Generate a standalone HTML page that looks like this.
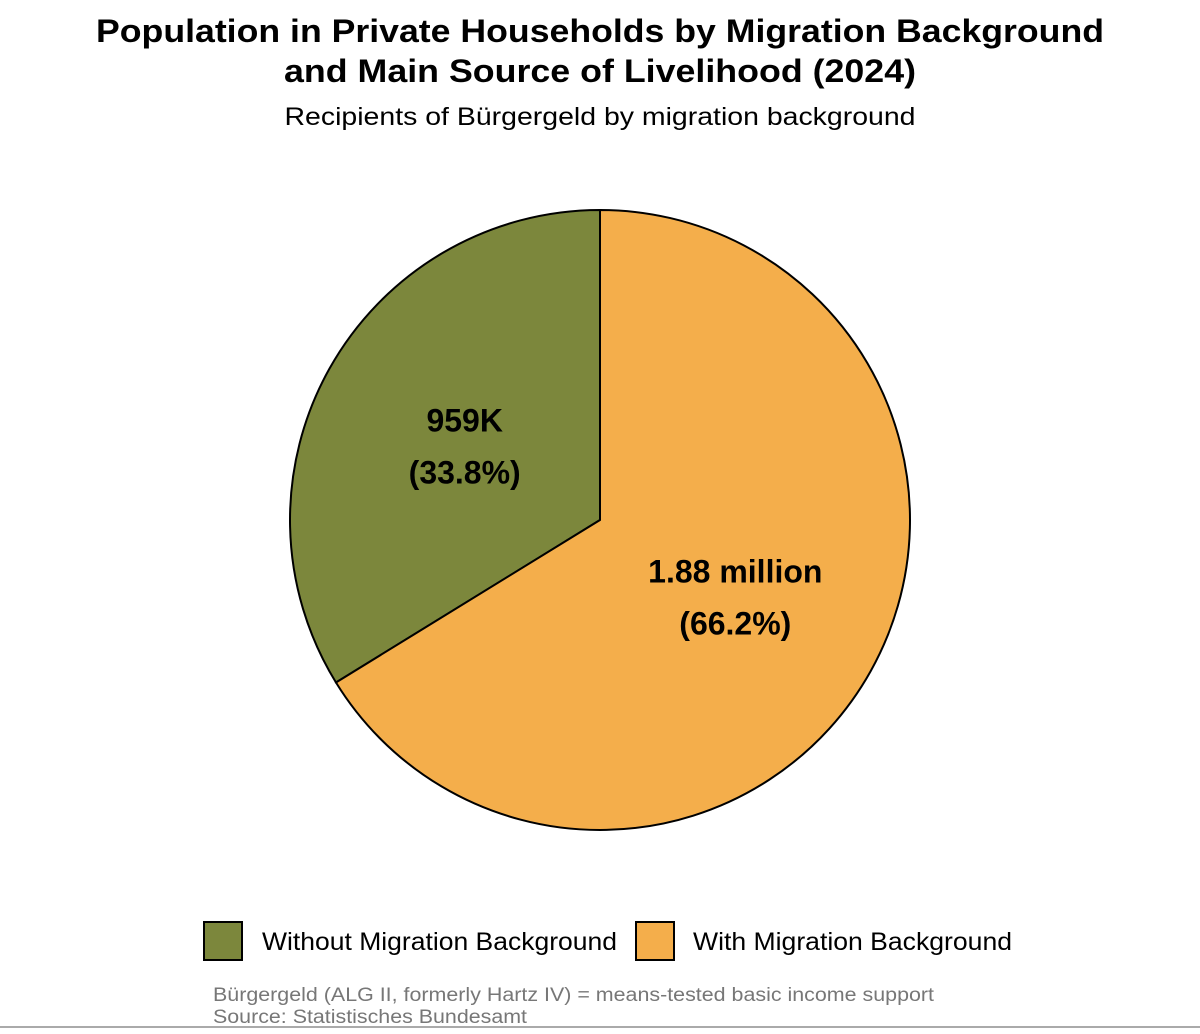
<!DOCTYPE html>
<html><head><meta charset="utf-8"><style>
body{margin:0;background:#fff;width:1200px;height:1029px;overflow:hidden;font-family:"Liberation Sans",sans-serif;}
</style></head><body>
<svg width="1200" height="1029" xmlns="http://www.w3.org/2000/svg">
<text x="600" y="42" text-anchor="middle" font-size="32" font-weight="bold" textLength="1008" lengthAdjust="spacingAndGlyphs">Population in Private Households by Migration Background</text>
<text x="600" y="82" text-anchor="middle" font-size="32" font-weight="bold" textLength="632" lengthAdjust="spacingAndGlyphs">and Main Source of Livelihood (2024)</text>
<text x="600" y="125" text-anchor="middle" font-size="25" textLength="631" lengthAdjust="spacingAndGlyphs">Recipients of Bürgergeld by migration background</text>
<g id="pie"></g>
<rect x="204" y="922" width="38" height="38" fill="#7c873c" stroke="#000" stroke-width="2"/>
<text x="262" y="950" font-size="25" textLength="355" lengthAdjust="spacingAndGlyphs">Without Migration Background</text>
<rect x="636" y="922" width="38" height="38" fill="#f4ae4b" stroke="#000" stroke-width="2"/>
<text x="693" y="950" font-size="25" textLength="319" lengthAdjust="spacingAndGlyphs">With Migration Background</text>
<text x="213" y="1001" font-size="19" fill="#777" textLength="721" lengthAdjust="spacingAndGlyphs">Bürgergeld (ALG II, formerly Hartz IV) = means-tested basic income support</text>
<text x="213" y="1023" font-size="19" fill="#777" textLength="314" lengthAdjust="spacingAndGlyphs">Source: Statistisches Bundesamt</text>
<line x1="0" y1="1027" x2="1200" y2="1027" stroke="#aaa" stroke-width="2"/>
</svg>
<script>
const categories=["Without Migration Background","With Migration Background"];
const values=[959,1880];
const valueLabels=["959K","1.88 million"];
const pctLabels=["(33.8%)","(66.2%)"];
const colors=["#7c873c","#f4ae4b"];
const cx=600,cy=520,r=310,NS="http://www.w3.org/2000/svg";
const g=document.getElementById('pie');
const total=values.reduce((a,b)=>a+b,0);
function pt(a,rr){return [cx-rr*Math.sin(a),cy-rr*Math.cos(a)];}
let start=0;
values.forEach((v,i)=>{
  const sweep=v/total*2*Math.PI,end=start+sweep;
  const p0=pt(start,r),p1=pt(end,r);
  const large=sweep>Math.PI?1:0;
  const path=document.createElementNS(NS,'path');
  path.setAttribute('d',`M${cx},${cy}L${p0[0]},${p0[1]}A${r},${r} 0 ${large} 0 ${p1[0]},${p1[1]}Z`);
  path.setAttribute('fill',colors[i]);path.setAttribute('stroke','#000');path.setAttribute('stroke-width','2');
  
  
  g.appendChild(path);
  const m=pt((start+end)/2,r*0.5);
  [valueLabels[i],pctLabels[i]].forEach((s,k)=>{
    const t=document.createElementNS(NS,'text');
    t.setAttribute('x',m[0]);t.setAttribute('y',m[1]-13+k*52);
    t.setAttribute('text-anchor','middle');t.setAttribute('font-size','32');t.setAttribute('font-weight','bold');
    t.textContent=s;
    
    
    g.appendChild(t);
  });
  start=end;
});
</script>
</body></html>
